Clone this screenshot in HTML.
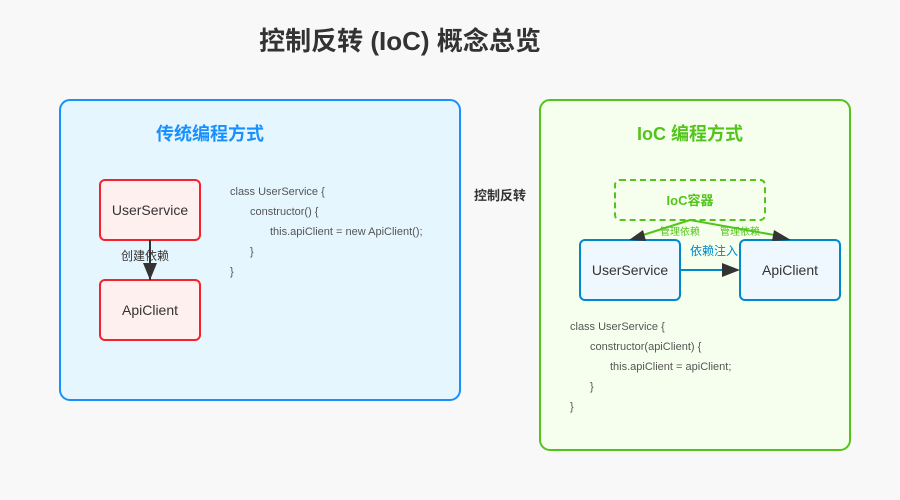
<!DOCTYPE html>
<html><head><meta charset="utf-8"><style>
html,body{margin:0;padding:0;width:900px;height:500px;overflow:hidden;background:#f8f8f8}
svg text{font-family:"Liberation Sans","Noto Sans CJK SC",sans-serif}
</style></head><body>
<svg width="900" height="500" viewBox="0 0 900 500" xmlns="http://www.w3.org/2000/svg">
<defs>
<marker id="ak" markerWidth="10" markerHeight="10" refX="9" refY="5" orient="auto" markerUnits="userSpaceOnUse"><path d="M0,0 L10,5 L0,10 z" fill="#333"/></marker>
<marker id="ab" viewBox="0 0 10 10" markerWidth="20" markerHeight="14" refX="9" refY="5" orient="auto" markerUnits="userSpaceOnUse"><path d="M0,0 L10,5 L0,10 z" fill="#333"/></marker>
</defs>
<rect x="0" y="0" width="900" height="500" fill="#f8f8f8"/>
<text x="400" y="50" text-anchor="middle" font-size="26" font-weight="bold" fill="#333">控制反转 (IoC) 概念总览</text>

<rect x="60" y="100" width="400" height="300" rx="10" fill="#e6f6ff" stroke="#1890ff" stroke-width="2"/>
<text x="210" y="140" text-anchor="middle" font-size="18" font-weight="bold" fill="#1890ff">传统编程方式</text>
<rect x="100" y="180" width="100" height="60" rx="5" fill="#fff0f0" stroke="#f5222d" stroke-width="2"/>
<text x="150" y="215" text-anchor="middle" font-size="14" fill="#333">UserService</text>
<rect x="100" y="280" width="100" height="60" rx="5" fill="#fff0f0" stroke="#f5222d" stroke-width="2"/>
<text x="150" y="315" text-anchor="middle" font-size="14" fill="#333">ApiClient</text>
<line x1="150" y1="240" x2="150" y2="280" stroke="#333" stroke-width="2"/>
<path d="M143,263 L157,263 L150,280 z" fill="#333"/>
<text x="145" y="260" text-anchor="middle" font-size="12" fill="#333">创建依赖</text>
<g font-size="11" fill="#555">
<text x="230" y="195">class UserService {</text>
<text x="250" y="215">constructor() {</text>
<text x="270" y="235">this.apiClient = new ApiClient();</text>
<text x="250" y="255">}</text>
<text x="230" y="275">}</text>
</g>

<text x="500" y="200" text-anchor="middle" font-size="13" font-weight="bold" fill="#333">控制反转</text>

<rect x="540" y="100" width="310" height="350" rx="10" fill="#f6ffed" stroke="#52c41a" stroke-width="2"/>
<text x="690" y="140" text-anchor="middle" font-size="18" font-weight="bold" fill="#52c41a">IoC 编程方式</text>
<rect x="615" y="180" width="150" height="40" rx="5" fill="none" stroke="#52c41a" stroke-width="2" stroke-dasharray="6,4"/>
<text x="690" y="205" text-anchor="middle" font-size="13" font-weight="bold" fill="#52c41a">IoC容器</text>
<rect x="580" y="240" width="100" height="60" rx="5" fill="#f0f8ff" stroke="#0088cc" stroke-width="2"/>
<text x="630" y="275" text-anchor="middle" font-size="14" fill="#333">UserService</text>
<rect x="740" y="240" width="100" height="60" rx="5" fill="#f0f8ff" stroke="#0088cc" stroke-width="2"/>
<text x="790" y="275" text-anchor="middle" font-size="14" fill="#333">ApiClient</text>
<line x1="690" y1="220" x2="640" y2="236" stroke="#52c41a" stroke-width="2"/>
<path d="M629,240 L643,230 L646,241 z" fill="#333"/>
<line x1="690" y1="220" x2="780" y2="236" stroke="#52c41a" stroke-width="2"/>
<path d="M791,240 L774,230 L772,241 z" fill="#333"/>
<text x="680" y="235" text-anchor="middle" font-size="10" fill="#52c41a">管理依赖</text>
<text x="740" y="235" text-anchor="middle" font-size="10" fill="#52c41a">管理依赖</text>
<line x1="680" y1="270" x2="725" y2="270" stroke="#0088cc" stroke-width="2"/>
<path d="M722,263 L740,270 L722,277 z" fill="#333"/>
<text x="714" y="255" text-anchor="middle" font-size="12" fill="#0088cc">依赖注入</text>
<g font-size="11" fill="#555">
<text x="570" y="330">class UserService {</text>
<text x="590" y="350">constructor(apiClient) {</text>
<text x="610" y="370">this.apiClient = apiClient;</text>
<text x="590" y="390">}</text>
<text x="570" y="410">}</text>
</g>
</svg>
</body></html>
